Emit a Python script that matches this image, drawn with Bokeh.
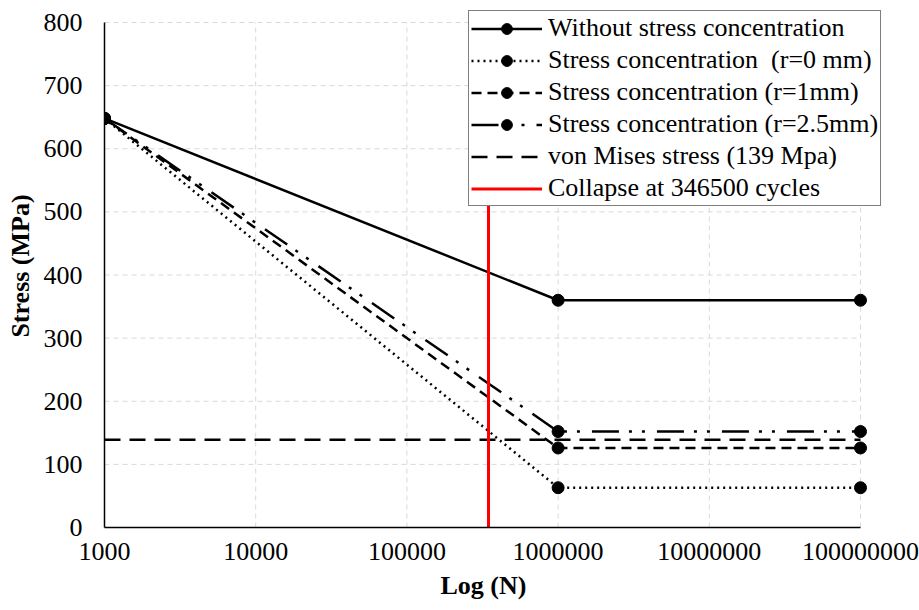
import math
from bokeh.plotting import figure
from bokeh.models import (FixedTicker, NumeralTickFormatter, Legend, LegendItem, Range1d, Title)
from bokeh.embed import file_html
from bokeh.resources import INLINE

# Data
cycles = [1000, 1000000, 100000000]
without_sc = [648, 360, 360]
sc_r0 = [648, 63, 63]
sc_r1 = [648, 126, 126]
sc_r25 = [648, 152, 152]
von_mises_x = [1000, 100000000]
von_mises = [139, 139]
collapse_x = [346500, 346500]
collapse_y = [0, 800]
x_ticks = [1000, 10000, 100000, 1000000, 10000000, 100000000]
y_ticks = [0, 100, 200, 300, 400, 500, 600, 700, 800]
x_min, x_max = 1000, 100000000
y_min, y_max = 0, 800

FONT = "'Liberation Serif', 'Times New Roman', serif"

# layout: axes area 104..860 px horizontally, 22..527 px vertically;
# the frame is slightly larger so that the legend is not clipped
decade_px = (860 - 104) / 5
x_end = 10 ** (math.log10(x_max) + (905 - 860) / decade_px)
unit_px = (527 - 22) / (y_max - y_min)
y_end = y_max + (22 - 4) / unit_px

p = figure(width=919, height=610, x_axis_type="log", output_backend="svg",
           toolbar_location=None, x_range=Range1d(x_min, x_end), y_range=Range1d(y_min, y_end),
           min_border_left=104, min_border_right=14, min_border_top=4, min_border_bottom=83)
p.outline_line_color = None

# grid lines limited to the axes area
p.xgrid.visible = False
p.ygrid.visible = False
p.segment(x0=x_ticks[1:], y0=[y_min] * 5, x1=x_ticks[1:], y1=[y_max] * 5,
          line_color="#d9d9d9", line_dash="5 4", line_width=1)
p.segment(x0=[x_min] * 8, y0=y_ticks[1:], x1=[x_max] * 8, y1=y_ticks[1:],
          line_color="#d9d9d9", line_dash="5 4", line_width=1)

lw = 2.5
ms = 12
r_without = p.line(cycles, without_sc, line_color="black", line_width=lw)
s_without = p.scatter(cycles, without_sc, size=ms, color="black")
r_r0 = p.line(cycles, sc_r0, line_color="black", line_width=lw, line_dash="2 4")
s_r0 = p.scatter(cycles, sc_r0, size=ms, color="black")
r_r1 = p.line(cycles, sc_r1, line_color="black", line_width=lw, line_dash="10 6")
s_r1 = p.scatter(cycles, sc_r1, size=ms, color="black")
r_r25 = p.line(cycles, sc_r25, line_color="black", line_width=lw, line_dash="27 10 3 10 3 12")
s_r25 = p.scatter(cycles, sc_r25, size=ms, color="black")
r_vm = p.line(von_mises_x, von_mises, line_color="black", line_width=lw, line_dash="16 9")
r_col = p.line(collapse_x, collapse_y, line_color="red", line_width=3)

legend = Legend(items=[
    LegendItem(label="Without stress concentration", renderers=[r_without, s_without]),
    LegendItem(label="Stress concentration  (r=0 mm)", renderers=[r_r0, s_r0]),
    LegendItem(label="Stress concentration (r=1mm)", renderers=[r_r1, s_r1]),
    LegendItem(label="Stress concentration (r=2.5mm)", renderers=[r_r25, s_r25]),
    LegendItem(label="von Mises stress (139 Mpa)", renderers=[r_vm]),
    LegendItem(label="Collapse at 346500 cycles", renderers=[r_col]),
], location=(364, 321))
legend.label_text_font = FONT
legend.label_text_font_size = "26px"
legend.label_text_color = "black"
legend.glyph_width = 71
legend.glyph_height = 27
legend.label_height = 27
legend.spacing = 2
legend.padding = 2
legend.margin = 0
legend.label_standoff = 6
legend.border_line_color = "black"
legend.border_line_width = 1.5
legend.background_fill_alpha = 1
p.add_layout(legend, "center")

# Axes
p.xaxis.ticker = FixedTicker(ticks=x_ticks, minor_ticks=[])
p.xaxis.formatter = NumeralTickFormatter(format="0")
p.yaxis.ticker = FixedTicker(ticks=y_ticks, minor_ticks=[])
p.xaxis.bounds = (x_min, x_max)
p.yaxis.bounds = (y_min, y_max)
for ax in (p.xaxis, p.yaxis):
    ax.major_tick_line_color = None
    ax.minor_tick_line_color = None
    ax.major_tick_out = 0
    ax.major_tick_in = 0
    ax.axis_line_color = "black"
    ax.axis_line_width = 1.5
    ax.major_label_text_font = FONT
    ax.major_label_text_font_size = "26px"
    ax.major_label_text_color = "black"
    ax.axis_label_text_font = FONT
    ax.axis_label_text_font_size = "26px"
    ax.axis_label_text_font_style = "bold"
    ax.axis_label_text_color = "black"
p.yaxis.axis_label = "Stress (MPa)"
p.xaxis.major_label_standoff = 15
p.yaxis.major_label_standoff = 22
p.yaxis.axis_label_standoff = 6

# x-axis title centred under the axes area (not the wider frame)
xtitle = Title(text="Log (N)", align="left", offset=336, text_font=FONT,
               text_font_size="26px", text_font_style="bold", text_color="black",
               standoff=12)
p.add_layout(xtitle, "below")

open("out.html", "w").write(file_html(p, INLINE))
